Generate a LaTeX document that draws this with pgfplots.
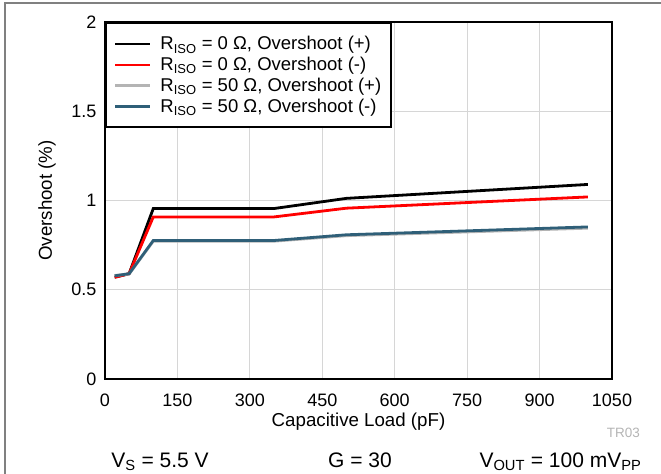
\documentclass[border=0pt]{standalone}
\usepackage{pgfplots}
\pgfplotsset{compat=1.18}
\usepackage{fontspec}
\setmainfont{Liberation Sans}
\definecolor{slate}{RGB}{47,95,120}
\definecolor{lgray}{RGB}{180,180,180}
\definecolor{gridgray}{RGB}{214,214,214}
\begin{document}
\begin{tikzpicture}
\useasboundingbox (0bp,0bp) rectangle (661bp,-474bp);
\draw[line width=1.5bp, color=gray] (5bp,-474bp) -- (5bp,-3bp) -- (661bp,-3bp);
\begin{axis}[
  at={(105bp,-379bp)}, anchor=south west,
  scale only axis, width=507bp, height=357bp,
  xmin=0, xmax=1050, ymin=0, ymax=2,
  xtick={0,150,300,450,600,750,900,1050},
  ytick={0,0.5,1,1.5,2},
  /pgf/number format/assume math mode=true,
  /pgf/number format/1000 sep={},
  yticklabel style={/pgf/number format/fixed},
  grid=major,
  major grid style={gridgray, line width=1bp},
  axis line style={line width=2.5bp},
  tick style={draw=none},
  ticklabel style={font=\fontsize{18bp}{20bp}\selectfont},
  xticklabel style={yshift=-11bp},
  yticklabel style={xshift=-5bp},
  xlabel={Capacitive Load (pF)},
  ylabel={Overshoot (\%)},
  every axis x label/.style={at={(rel axis cs:0.5,0)}, yshift=-43bp, anchor=center, font=\fontsize{18.7bp}{20bp}\selectfont},
  every axis y label/.style={at={(rel axis cs:0,0.5)}, xshift=-58bp, anchor=center, rotate=90, font=\fontsize{18.7bp}{20bp}\selectfont},
  legend style={at={(rel axis cs:0,1)}, anchor=north west, draw=black, line width=2bp,
    font=\fontsize{18.5bp}{21bp}\selectfont, inner xsep=8bp, inner ysep=11.5bp,
    row sep=1.8bp, cells={anchor=west, inner xsep=1bp, inner ysep=1bp, text height=13.5bp, text depth=1bp}},
  legend image code/.code={\draw[#1, line width=2.5bp] (0bp,0bp) -- (35bp,0bp);},
]
\addplot[black, line width=2.8bp] coordinates {(20,0.57) (50,0.59) (100,0.955) (350,0.955) (500,1.012) (1000,1.09)};
\addlegendentry{\hspace{7bp}R\textsubscript{ISO} = 0 Ω, Overshoot (+)}
\addplot[red, line width=2.8bp] coordinates {(20,0.57) (50,0.59) (100,0.908) (350,0.908) (500,0.957) (1000,1.02)};
\addlegendentry{\hspace{7bp}R\textsubscript{ISO} = 0 Ω, Overshoot (-)}
\addplot[lgray, line width=2.8bp] coordinates {(20,0.58) (50,0.588) (100,0.772) (350,0.772) (500,0.803) (1000,0.845)};
\addlegendentry{\hspace{7bp}R\textsubscript{ISO} = 50 Ω, Overshoot (+)\hspace{10bp}}
\addplot[slate, line width=2.8bp] coordinates {(20,0.578) (50,0.59) (100,0.776) (350,0.776) (500,0.808) (1000,0.852)};
\addlegendentry{\hspace{7bp}R\textsubscript{ISO} = 50 Ω, Overshoot (-)}
\end{axis}
\node[font=\fontsize{13.5bp}{16bp}\selectfont, text=lgray, anchor=base east, inner sep=0] at (640bp,-437bp) {TR03};
\node[font=\fontsize{21bp}{22bp}\selectfont, anchor=base, inner sep=0] at (160bp,-467bp) {V\textsubscript{S} = 5.5 V};
\node[font=\fontsize{21bp}{22bp}\selectfont, anchor=base, inner sep=0] at (360bp,-467bp) {G = 30};
\node[font=\fontsize{21bp}{22bp}\selectfont, anchor=base, inner sep=0] at (560.5bp,-467bp) {V\textsubscript{OUT} = 100 mV\textsubscript{PP}};
\end{tikzpicture}
\end{document}
